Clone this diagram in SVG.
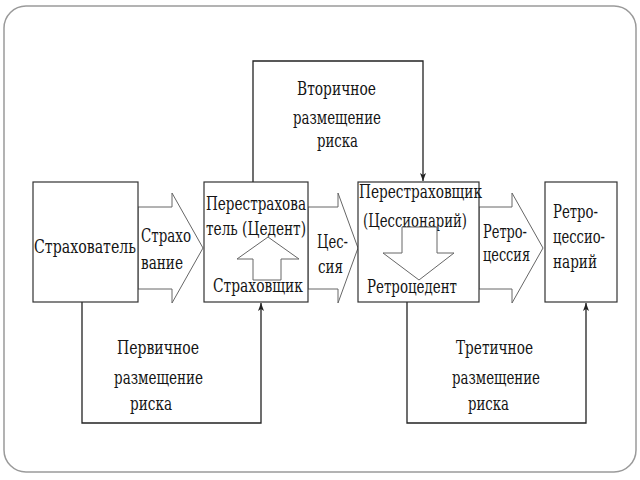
<svg xmlns="http://www.w3.org/2000/svg" width="640" height="480" viewBox="0 0 640 480">
<defs>
<style>
.bg{fill:#fff;stroke:#9a9a9a;stroke-width:1.5}
.box{fill:#fff;stroke:#333;stroke-width:1.2}
.blk{fill:#fff;stroke:#666;stroke-width:1}
.con{fill:none;stroke:#222;stroke-width:1.3}
text{font-family:"DejaVu Serif","Liberation Serif",serif;font-stretch:condensed;font-size:18.5px;fill:#151515}
</style>
<marker id="ah" markerWidth="8" markerHeight="12" refX="8" refY="3" orient="auto" markerUnits="userSpaceOnUse" viewBox="0 0 8 6">
<path d="M0,0 L8,3 L0,6 L2,3 Z" fill="#222"/>
</marker>
</defs>
<rect class="bg" x="4" y="6" width="632" height="466" rx="22"/>

<g id="connectors">
<polyline class="con" points="253,182 253,61 423,61 423,181" marker-end="url(#ah)"/>
<polyline class="con" points="82,302 82,423 261,423 261,303" marker-end="url(#ah)"/>
<polyline class="con" points="407,302 407,423 586,423 586,303" marker-end="url(#ah)"/>
<text x="297" y="95" textLength="79" lengthAdjust="spacingAndGlyphs">Вторичное</text>
<text x="293" y="124" textLength="88" lengthAdjust="spacingAndGlyphs">размещение</text>
<text x="317" y="147" textLength="41" lengthAdjust="spacingAndGlyphs">риска</text>
<text x="117" y="354" textLength="82" lengthAdjust="spacingAndGlyphs">Первичное</text>
<text x="114" y="384" textLength="89" lengthAdjust="spacingAndGlyphs">размещение</text>
<text x="130" y="410" textLength="42" lengthAdjust="spacingAndGlyphs">риска</text>
<text x="456" y="354" textLength="77" lengthAdjust="spacingAndGlyphs">Третичное</text>
<text x="452" y="384" textLength="88" lengthAdjust="spacingAndGlyphs">размещение</text>
<text x="468" y="410" textLength="41" lengthAdjust="spacingAndGlyphs">риска</text>
</g>

<g id="arrow-strahovanie">
<polygon class="blk" points="138,207 172,207 172,193 203,248 172,303 172,289 138,289"/>
<text x="141" y="242" textLength="50" lengthAdjust="spacingAndGlyphs">Страхо</text>
<text x="141" y="269" textLength="42" lengthAdjust="spacingAndGlyphs">вание</text>
</g>

<g id="arrow-cessia">
<polygon class="blk" points="308,207 338,207 338,193 358,248 338,303 338,289 308,289"/>
<text x="317" y="248" textLength="31" lengthAdjust="spacingAndGlyphs">Цес-</text>
<text x="318" y="273" textLength="25" lengthAdjust="spacingAndGlyphs">сия</text>
</g>

<g id="arrow-retrocessia">
<polygon class="blk" points="479,207 512,207 512,193 543,248 512,303 512,289 479,289"/>
<text x="483" y="238" textLength="44" lengthAdjust="spacingAndGlyphs">Ретро-</text>
<text x="483" y="261" textLength="47" lengthAdjust="spacingAndGlyphs">цессия</text>
</g>

<g id="strahovatel">
<rect class="box" x="33" y="182" width="105" height="120"/>
<text x="34" y="253" textLength="102" lengthAdjust="spacingAndGlyphs">Страхователь</text>
</g>

<g id="perestrahovatel">
<rect class="box" x="204" y="182" width="104" height="120"/>
<text x="206" y="210" textLength="100" lengthAdjust="spacingAndGlyphs">Перестрахова</text>
<text x="206" y="235" textLength="100" lengthAdjust="spacingAndGlyphs">тель (Цедент)</text>
<polygon class="blk" points="253,280 253,259 237,259 268,237 299,259 281,259 281,280"/>
<text x="213" y="292" textLength="90" lengthAdjust="spacingAndGlyphs">Страховщик</text>
</g>

<g id="perestrahovshik">
<rect class="box" x="358" y="182" width="121" height="120"/>
<text x="359" y="198" textLength="123" lengthAdjust="spacingAndGlyphs">Перестраховщик</text>
<text x="363" y="227" textLength="104" lengthAdjust="spacingAndGlyphs">(Цессионарий)</text>
<polygon class="blk" points="402,227 437,227 437,253 454,253 419,280 383,253 402,253"/>
<text x="367" y="293" textLength="90" lengthAdjust="spacingAndGlyphs">Ретроцедент</text>
</g>

<g id="retrocessionariy">
<rect class="box" x="545" y="182" width="72" height="120"/>
<text x="553" y="218" textLength="45" lengthAdjust="spacingAndGlyphs">Ретро-</text>
<text x="553" y="243" textLength="52" lengthAdjust="spacingAndGlyphs">цессио-</text>
<text x="553" y="268" textLength="44" lengthAdjust="spacingAndGlyphs">нарий</text>
</g>
</svg>
